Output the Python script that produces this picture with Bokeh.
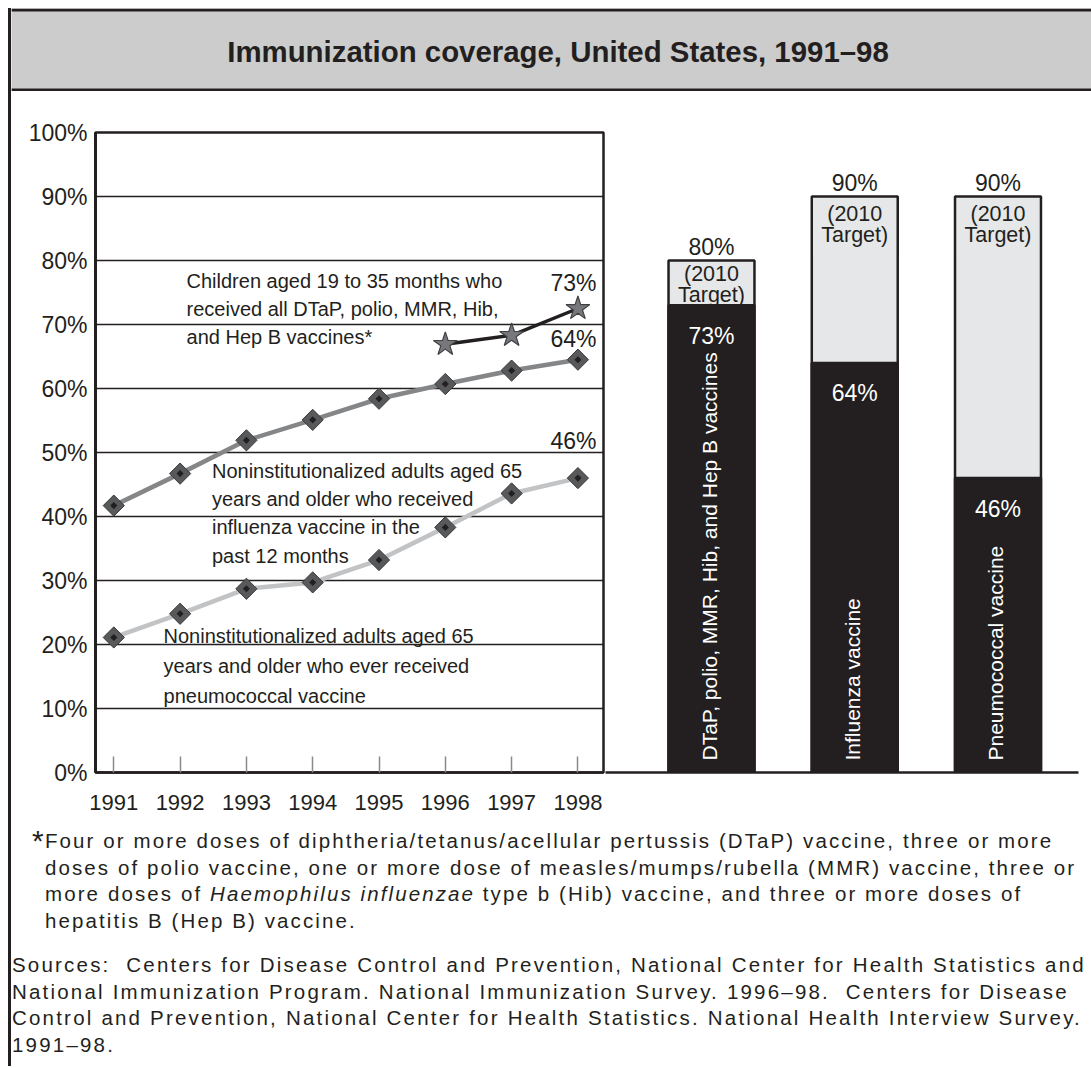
import math
from bokeh.plotting import figure
from bokeh.models import Range1d, FixedTicker, LinearAxis, Div, ColumnDataSource
from bokeh.layouts import row, column
from bokeh.embed import file_html
from bokeh.resources import INLINE
from bokeh.core.properties import value

# ---------------- data ----------------
title_text = "Immunization coverage, United States, 1991\u201398"

years = [1991, 1992, 1993, 1994, 1995, 1996, 1997, 1998]
year_labels = ["1991", "1992", "1993", "1994", "1995", "1996", "1997", "1998"]
influenza = [41.7, 46.7, 51.9, 55.1, 58.4, 60.7, 62.8, 64.5]
pneumococcal = [21.1, 24.8, 28.7, 29.7, 33.2, 38.3, 43.6, 46.0]
child_years = [1996, 1997, 1998]
children = [66.9, 68.3, 72.5]
end_labels = ["73%", "64%", "46%"]

pct_ticks = [0, 10, 20, 30, 40, 50, 60, 70, 80, 90, 100]
pct_labels = ["0%", "10%", "20%", "30%", "40%", "50%", "60%", "70%", "80%", "90%", "100%"]

child_note = ["Children aged 19 to 35 months who",
              "received all DTaP, polio, MMR, Hib,",
              "and Hep B vaccines*"]
flu_note = ["Noninstitutionalized adults aged 65",
            "years and older who received",
            "influenza vaccine in the",
            "past 12 months"]
pneumo_note = ["Noninstitutionalized adults aged 65",
               "years and older who ever received",
               "pneumococcal vaccine"]

bar_names = ["DTaP, polio, MMR, Hib, and Hep B vaccines", "Influenza vaccine", "Pneumococcal vaccine"]
bar_current = [73, 64, 46]
bar_target = [80, 90, 90]
target_note = ["(2010", "Target)"]

footnote_lines = [
    "Four or more doses of diphtheria/tetanus/acellular pertussis (DTaP) vaccine, three or more",
    "doses of polio vaccine, one or more dose of measles/mumps/rubella (MMR) vaccine, three or",
    "more doses of <i>Haemophilus influenzae</i> type b (Hib) vaccine, and three or more doses of",
    "hepatitis B (Hep B) vaccine.",
]
source_lines = [
    "Sources:&nbsp; Centers for Disease Control and Prevention, National Center for Health Statistics and",
    "National Immunization Program. National Immunization Survey. 1996\u201398.&nbsp; Centers for Disease",
    "Control and Prevention, National Center for Health Statistics. National Health Interview Survey.",
    "1991\u201398.",
]

# ---------------- style ----------------
INK = "#231f20"
FONT = "Liberation Sans"


def lift(fs):
    """screen correction so that the anchor sits on the text baseline"""
    return -0.33 * fs


# ---------------- title band ----------------
pt = figure(width=1080, height=83, x_range=Range1d(0, 1080), y_range=Range1d(0, 83),
            min_border=0, x_axis_location=None, y_axis_location=None, title=None,
            toolbar_location=None, output_backend="svg",
            background_fill_color="#cccccc", border_fill_color="#cccccc",
            outline_line_color=None)
pt.grid.visible = False
pt.segment(x0=[0, 0], y0=[81.5, 1.5], x1=[1080, 1080], y1=[81.5, 1.5],
           line_color=INK, line_width=3)
pt.text(x=[546.5], y=[30], text=[title_text], y_offset=lift(29.4), text_font=value(FONT),
        text_font_style="bold", text_font_size="29.4px", text_align="center",
        text_baseline="alphabetic", text_color=INK)

# ---------------- line chart ----------------
p1 = figure(width=594, height=729, x_range=Range1d(1990.724, 1998.386), y_range=Range1d(0, 100),
            output_backend="svg", toolbar_location=None, title=None,
            min_border_left=84, min_border_right=2, min_border_top=41, min_border_bottom=48,
            background_fill_color="white", border_fill_color="white")
p1.outline_line_color = INK
p1.outline_line_width = 2.5
p1.outline_line_alpha = 1.0
p1.xgrid.visible = False
p1.ygrid.ticker = FixedTicker(ticks=pct_ticks[1:-1])
p1.ygrid.grid_line_color = INK
p1.ygrid.grid_line_width = 1.5

xa = p1.xaxis[0]
xa.ticker = FixedTicker(ticks=years)
xa.major_label_overrides = dict(zip(years, year_labels))
xa.major_tick_in = 16
xa.major_tick_out = 0
xa.major_tick_line_color = "#8a8a8a"
xa.major_tick_line_width = 1.5
xa.minor_tick_line_color = None
xa.axis_line_color = INK
xa.axis_line_width = 2.5
xa.major_label_text_font = FONT
xa.major_label_text_font_size = "22px"
xa.major_label_text_color = INK
xa.major_label_standoff = 22

ya = p1.yaxis[0]
ya.ticker = FixedTicker(ticks=pct_ticks)
ya.major_label_overrides = dict(zip(pct_ticks, pct_labels))
ya.major_tick_in = 0
ya.major_tick_out = 0
ya.minor_tick_line_color = None
ya.axis_line_color = INK
ya.axis_line_width = 3
ya.major_label_text_font = FONT
ya.major_label_text_font_size = "23px"
ya.major_label_text_color = INK
ya.major_label_standoff = 8

p1.line(years, pneumococcal, line_color="#c2c3c5", line_width=4.5)
p1.line(years, influenza, line_color="#858688", line_width=4.5)
p1.line(child_years, children, line_color=INK, line_width=3.5)

for series in (influenza, pneumococcal):
    p1.scatter(years, series, marker="square", angle=math.pi / 4, size=15,
               fill_color="#58595b", line_color="#3a3a3c", line_width=1)
    p1.scatter(years, series, marker="square", angle=math.pi / 4, size=5,
               fill_color="#231f20", line_color=None)
p1.scatter(child_years, children, marker="star", size=25,
           fill_color="#77787b", line_color="#414042", line_width=1.2)

end_src = ColumnDataSource(dict(
    x=[child_years[-1], years[-1], years[-1]],
    y=[children[-1], influenza[-1], pneumococcal[-1]],
    text=end_labels,
    dy=[-18 + lift(23), -13.5 + lift(23), -29.3 + lift(23)],
))
p1.text(x="x", y="y", text="text", y_offset="dy", x_offset=-4.5, source=end_src,
        text_font=value(FONT), text_font_size="23px", text_color=INK,
        text_align="center", text_baseline="alphabetic")


def note(lines, x, ys):
    p1.text(x=[x] * len(lines), y=ys, text=lines, y_offset=lift(20), text_font=value(FONT),
            text_font_size="20px", text_color=INK, text_align="left",
            text_baseline="alphabetic")


note(child_note, 1992.097, [75.83, 71.41, 67.08])
note(flu_note, 1992.481, [46.14, 41.72, 37.30, 32.86])
note(pneumo_note, 1991.750, [20.36, 15.67, 10.98])

# ---------------- bars ----------------
p2 = figure(width=486, height=729, x_range=Range1d(-0.740, 2.562), y_range=Range1d(0, 100),
            output_backend="svg", toolbar_location=None, title=None,
            x_axis_location=None, y_axis_location=None,
            min_border_left=0, min_border_right=13, min_border_top=41, min_border_bottom=48,
            background_fill_color="white", border_fill_color="white")
p2.outline_line_color = None
p2.grid.visible = False
base = LinearAxis(ticker=FixedTicker(ticks=[]), axis_line_color=INK, axis_line_width=2.5,
                  major_tick_in=0, major_tick_out=0, minor_tick_in=0, minor_tick_out=0,
                  major_label_text_font_size="0px")
p2.add_layout(base, "below")

idx = list(range(len(bar_names)))
pad_first = [21, 25, 25]
bsrc = ColumnDataSource(dict(
    x=idx,
    target=bar_target,
    current=bar_current,
    name=bar_names,
    tlabel=[f"{t}%" for t in bar_target],
    clabel=[f"{c}%" for c in bar_current],
    line1=[target_note[0]] * len(idx),
    line2=[target_note[1]] * len(idx),
    pad1=[p + lift(21.5) for p in pad_first],
    pad2=[p + 21 + lift(21.5) for p in pad_first],
))
p2.vbar(x="x", top="target", bottom=0, width=0.6, source=bsrc,
        fill_color="#e6e7e8", line_color=INK, line_width=2.5)
for col, pad in (("line1", "pad1"), ("line2", "pad2")):
    p2.text(x="x", y="target", text=col, y_offset=pad, source=bsrc,
            text_font=value(FONT), text_font_size="21.5px", text_color=INK,
            text_align="center", text_baseline="alphabetic")
p2.vbar(x="x", top="current", bottom=0, width=0.6, source=bsrc,
        fill_color=INK, line_color=INK, line_width=2.5)
p2.text(x="x", y="target", text="tlabel", y_offset=-6 + lift(23), source=bsrc,
        text_font=value(FONT), text_font_size="23px", text_color=INK,
        text_align="center", text_baseline="alphabetic")
p2.text(x="x", y="current", text="clabel", y_offset=38 + lift(23), source=bsrc,
        text_font=value(FONT), text_font_size="23px", text_color="white",
        text_align="center", text_baseline="alphabetic")
p2.text(x="x", y=0, text="name", y_offset=-12, x_offset=-2, angle=math.pi / 2, source=bsrc,
        text_font=value(FONT), text_font_size="21px", text_color="white",
        text_align="left", text_baseline="middle")

# ---------------- footnotes ----------------
foot_html = (
    '<div style="position:relative;width:1080px;height:246px;'
    "font-family:'Liberation Sans',Arial,sans-serif;font-size:20.5px;"
    'line-height:26.5px;color:#231f20;white-space:nowrap;">'
    '<div style="position:absolute;left:21px;top:6px;font-size:30px;line-height:30px;">*</div>'
    '<div style="position:absolute;left:34px;top:8px;letter-spacing:2.1px;">'
    + "<br>".join(footnote_lines) + "</div>"
    '<div style="position:absolute;left:1px;top:132px;letter-spacing:2.2px;">'
    + "<br>".join(source_lines) + "</div>"
    "</div>"
)
foot = Div(text=foot_html, width=1080, height=246, margin=0)

border = Div(text="", width=3, height=1058, margin=0, styles={"background-color": INK})

layout = row(border, column(pt, row(p1, p2), foot), margin=(8, 0, 0, 8))

open("out.html", "w").write(file_html(layout, INLINE))
